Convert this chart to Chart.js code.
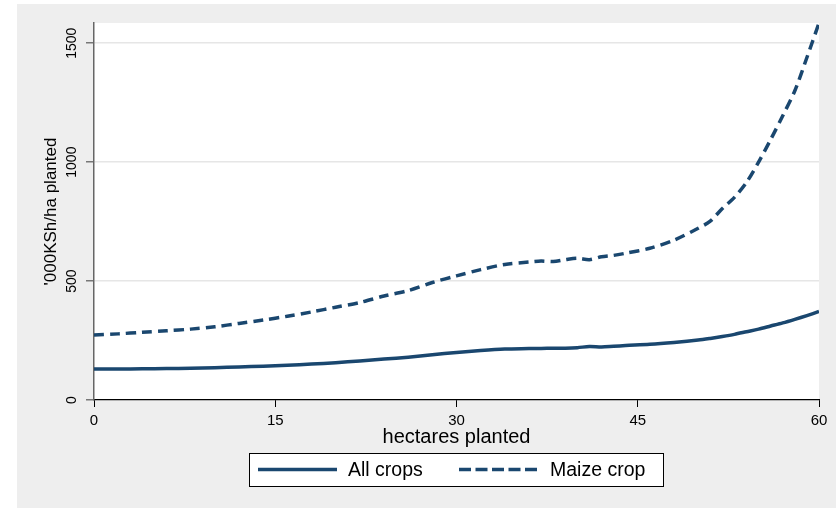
<!DOCTYPE html>
<html>
<head>
<meta charset="utf-8">
<script src="https://cdn.jsdelivr.net/npm/chart.js@4/dist/chart.umd.min.js"></script>
<style>
  html, body { margin: 0; padding: 0; background: #ffffff; }
  canvas { display: block; }
</style>
</head>
<body>
<canvas id="c" width="836" height="508"></canvas>
<script>
// Hectares planted (x positions of the smoothed estimates)
const hectares = [0, 2, 4, 6, 8, 10, 12, 14, 16, 18, 20, 22, 24, 26, 28, 30, 32, 34, 36, 37, 38, 39, 40, 41, 42, 43, 44, 46, 48, 50, 51, 52, 53, 54, 55, 56, 57, 58, 59, 60];
// '000 KSh per hectare planted
const allCrops = [130, 130, 131, 132, 134, 136, 139, 142, 146, 151, 157, 164, 172, 180, 190, 200, 208, 214, 216, 217, 218, 218, 220, 225, 223, 226, 229, 234, 242, 252, 259, 267, 276, 287, 298, 311, 324, 339, 355, 372];
const maizeCrop = [273, 278, 285, 291, 298, 308, 322, 336, 352, 370, 390, 410, 437, 460, 494, 522, 548, 570, 580, 584, 582, 590, 596, 590, 602, 608, 617, 638, 672, 722, 752, 805, 852, 915, 1000, 1095, 1195, 1300, 1440, 1585];
const xTicks = [0, 15, 30, 45, 60];
const yTicks = [0, 500, 1000, 1500];
const seriesNames = ['All crops', 'Maize crop'];
const xTitle = 'hectares planted';
const yTitle = "'000KSh/ha planted";

const NAVY = '#1a476f';
const FONT = '"Liberation Sans", Arial, sans-serif';

const toPoints = (ys) => hectares.map((h, i) => ({ x: h, y: ys[i] }));

const framePlugin = {
  id: 'frame',
  beforeDraw(chart) {
    const { ctx, chartArea: a } = chart;
    ctx.save();
    ctx.fillStyle = '#ffffff';
    ctx.fillRect(0, 0, chart.width, chart.height);
    ctx.fillStyle = '#eeeeee';
    ctx.fillRect(17, 4, chart.width - 17, chart.height - 4);
    ctx.fillStyle = '#ffffff';
    ctx.fillRect(a.left, a.top, a.right - a.left, a.bottom - a.top);
    ctx.restore();
  },
  afterDraw(chart) {
    const { ctx, chartArea: a } = chart;
    const ys = chart.scales.y;
    ctx.save();
    ctx.fillStyle = '#000000';
    ctx.textAlign = 'center';
    ctx.textBaseline = 'middle';

    // rotated y tick labels
    ctx.font = '14px ' + FONT;
    yTicks.forEach(v => {
      const py = ys.getPixelForValue(v);
      ctx.save();
      ctx.translate(72, py);
      ctx.rotate(-Math.PI / 2);
      ctx.fillText(String(v), 0, 0);
      ctx.restore();
    });

    // y title
    ctx.font = '17px ' + FONT;
    ctx.save();
    ctx.translate(51, (a.top + a.bottom) / 2);
    ctx.rotate(-Math.PI / 2);
    ctx.fillText(yTitle, 0, 0);
    ctx.restore();

    // x title
    ctx.font = '20px ' + FONT;
    ctx.fillText(xTitle, (a.left + a.right) / 2, 437);

    // legend box
    const bx = 249, by = 453, bw = 414, bh = 33;
    ctx.fillStyle = '#ffffff';
    ctx.fillRect(bx, by, bw, bh);
    ctx.strokeStyle = '#000000';
    ctx.lineWidth = 1;
    ctx.strokeRect(bx + 0.5, by + 0.5, bw, bh);
    const ly = by + bh / 2;
    ctx.strokeStyle = NAVY;
    ctx.lineWidth = 3.5;
    ctx.lineCap = 'butt';
    ctx.beginPath();
    ctx.moveTo(258, ly); ctx.lineTo(337, ly);
    ctx.stroke();
    ctx.setLineDash([12, 4.5]);
    ctx.beginPath();
    ctx.moveTo(459, ly); ctx.lineTo(538, ly);
    ctx.stroke();
    ctx.setLineDash([]);
    ctx.fillStyle = '#000000';
    ctx.font = '19.5px ' + FONT;
    ctx.textAlign = 'left';
    ctx.fillText(seriesNames[0], 348, ly + 1);
    ctx.fillText(seriesNames[1], 550, ly + 1);
    ctx.restore();
  }
};

new Chart(document.getElementById('c'), {
  type: 'line',
  data: {
    datasets: [
      {
        label: seriesNames[0],
        data: toPoints(allCrops),
        borderColor: NAVY,
        borderWidth: 3.5,
        pointRadius: 0,
        tension: 0.3,
        fill: false
      },
      {
        label: seriesNames[1],
        data: toPoints(maizeCrop),
        borderColor: NAVY,
        borderWidth: 3.5,
        borderDash: [10, 6],
        pointRadius: 0,
        tension: 0.3,
        fill: false
      }
    ]
  },
  options: {
    responsive: false,
    animation: false,
    devicePixelRatio: 1,
    layout: { padding: { left: 17, right: 17, top: 23, bottom: 0 } },
    plugins: {
      legend: { display: false },
      tooltip: { enabled: false }
    },
    scales: {
      x: {
        type: 'linear',
        min: 0,
        max: 60,
        afterBuildTicks: (s) => { s.ticks = xTicks.map(v => ({ value: v })); },
        afterFit: (s) => { s.height = 108; },
        ticks: {
          color: '#000000',
          font: { family: FONT, size: 15 },
          padding: 5,
          maxRotation: 0,
          autoSkip: false
        },
        grid: {
          drawOnChartArea: false,
          tickLength: 7,
          tickColor: '#000000',
          lineWidth: 1
        },
        border: { color: '#000000', width: 1.2 }
      },
      y: {
        type: 'linear',
        min: 0,
        max: 1585,
        afterBuildTicks: (s) => { s.ticks = yTicks.map(v => ({ value: v })); },
        afterFit: (s) => { s.width = 77; },
        ticks: { display: false },
        grid: {
          color: (c) => (c.tick && c.tick.value === 0 ? 'rgba(0,0,0,0)' : '#e6e6e6'),
          lineWidth: 1.5,
          tickLength: 8,
          tickColor: '#777777'
        },
        border: { color: '#666666', width: 1.5 }
      }
    }
  },
  plugins: [framePlugin]
});
</script>
</body>
</html>
